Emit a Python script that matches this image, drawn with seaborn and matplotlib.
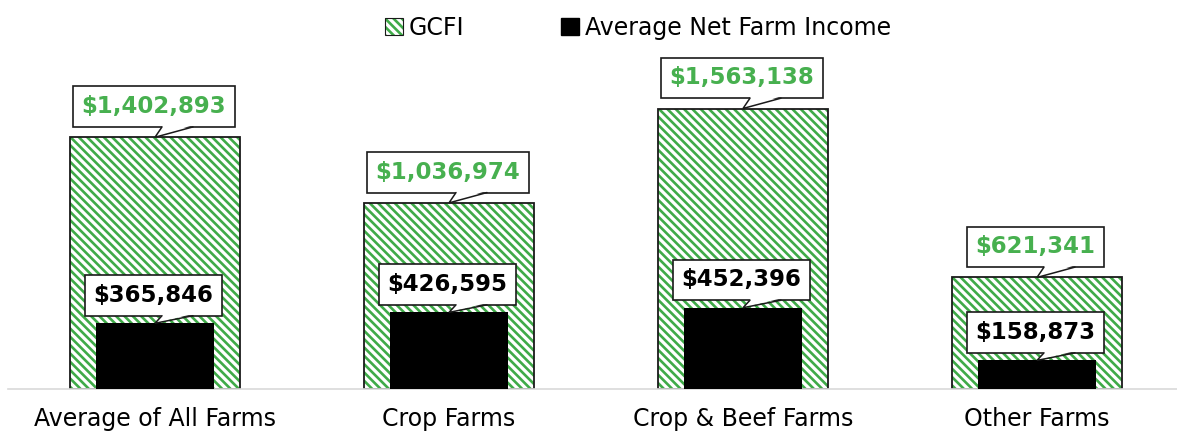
import matplotlib
matplotlib.use("Agg")
import matplotlib.pyplot as plt
import seaborn as sns
import pandas as pd
import numpy as np
from matplotlib.patches import Patch, Polygon
from matplotlib.legend_handler import HandlerTuple

categories = ["Average of All Farms", "Crop Farms", "Crop & Beef Farms", "Other Farms"]
gcfi = [1402893, 1036974, 1563138, 621341]
net_income = [365846, 426595, 452396, 158873]
gcfi_labels = ["$1,402,893", "$1,036,974", "$1,563,138", "$621,341"]
nfi_labels = ["$365,846", "$426,595", "$452,396", "$158,873"]

GREEN = "#3FAA48"
TEXT_GREEN = "#47B04F"
EDGE = "#1a1a1a"
HATCH = "\\\\\\\\"

sns.set_theme(style="white")
plt.rcParams["font.family"] = ["DejaVu Sans"]
plt.rcParams["hatch.linewidth"] = 1.9
plt.rcParams["hatch.color"] = GREEN

df = pd.DataFrame({"cat": categories, "gcfi": gcfi, "nfi": net_income})

fig = plt.figure(figsize=(11.77, 4.36), dpi=100)
ax = fig.add_axes([0.0, 0.108, 1.0, 0.755])

# hatched GCFI bars
sns.barplot(data=df, x="cat", y="gcfi", color="white", width=0.575,
            edgecolor=GREEN, linewidth=0, hatch=HATCH, ax=ax, zorder=1)
# outlines
sns.barplot(data=df, x="cat", y="gcfi", color=EDGE, width=0.575,
            fill=False, linewidth=1.3, ax=ax, zorder=2)
# net farm income bars
sns.barplot(data=df, x="cat", y="nfi", color="black", width=0.40,
            linewidth=0, ax=ax, zorder=3)

ax.set_xlim(-155 / 294, (1177 - 155) / 294)
ax.set_ylim(0, 1835000)
ax.set_xlabel("")
ax.set_ylabel("")
ax.set_yticks([])
ax.tick_params(axis="x", length=0, labelsize=17, pad=13, colors="black")
for s in ["top", "right", "left"]:
    ax.spines[s].set_visible(False)
ax.spines["bottom"].set_color("#d9d9d9")
ax.spines["bottom"].set_linewidth(1.2)
ax.spines["bottom"].set_bounds(-147 / 294, (1177 - 155) / 294)

# callouts
anns = []
def callout(i, val, lab, color, dy):
    a = ax.annotate(lab, xy=(i, val), xytext=(-1, dy), textcoords="offset points",
                    ha="center", va="center", fontsize=16.5, fontweight="bold",
                    color=color, zorder=5,
                    bbox=dict(boxstyle="square,pad=0.38", fc="white", ec=EDGE, lw=1.2))
    anns.append((a, i, val))

for i, (g, lab) in enumerate(zip(gcfi, gcfi_labels)):
    callout(i, g, lab, TEXT_GREEN, 22)
for i, (n, lab) in enumerate(zip(net_income, nfi_labels)):
    callout(i, n, lab, "black", 20)

fig.canvas.draw()
inv = ax.transData.inverted()
for a, i, val in anns:
    bb = a.get_bbox_patch().get_window_extent()
    tip = ax.transData.transform((i, val))
    ybase = bb.y0
    left = (tip[0] + 7, ybase)
    right = (tip[0] + 38, ybase)
    fill_pts = np.array([(left[0] + 0.8, ybase + 1.6), tip, (right[0] - 0.8, ybase + 1.6)])
    ax.add_patch(Polygon(inv.transform(fill_pts), closed=True, fc="white", ec="none", zorder=6))
    edge_pts = inv.transform(np.array([left, tip, right]))
    ax.plot(edge_pts[:, 0], edge_pts[:, 1], color=EDGE, lw=1.1, zorder=7,
            solid_joinstyle="miter")

h_gcfi = (Patch(facecolor="white", edgecolor=GREEN, hatch=HATCH, linewidth=0),
          Patch(facecolor="none", edgecolor=EDGE, linewidth=0.8))
h_nfi = Patch(facecolor="black", edgecolor="black")
leg = fig.legend(handles=[h_gcfi, h_nfi], labels=["GCFI", "Average Net Farm Income"],
                 handler_map={tuple: HandlerTuple(ndivide=1, pad=0)},
                 loc="upper center", bbox_to_anchor=(0.542, 1.012),
                 ncol=2, frameon=False, fontsize=17, columnspacing=4.1,
                 handlelength=0.75, handleheight=0.75, handletextpad=0.25)
for t in leg.get_texts():
    t.set_color("black")

fig.savefig("out.png", dpi=100)
